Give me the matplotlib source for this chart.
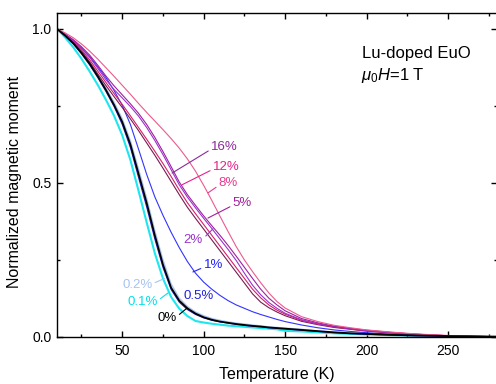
import matplotlib
matplotlib.use("Agg")
import matplotlib.pyplot as plt
from matplotlib.ticker import MultipleLocator

plt.rcParams["font.family"] = ["Liberation Sans", "DejaVu Sans"]
plt.rcParams["mathtext.fontset"] = "custom"
plt.rcParams["mathtext.rm"] = "Liberation Sans"
plt.rcParams["mathtext.it"] = "Liberation Sans:italic"

# temperature grid (K) shared by all curves
temps = [10, 15, 20, 25, 30, 35, 40, 45, 50, 55, 60, 65, 70, 75, 80, 85, 90, 95, 100,
         105, 110, 115, 120, 125, 130, 135, 140, 145, 150, 160, 170, 180, 190, 200,
         215, 230, 250, 265, 280]

m_0 = [1.000, 0.978, 0.953, 0.922, 0.887, 0.846, 0.802, 0.753, 0.698, 0.625, 0.530,
       0.435, 0.330, 0.235, 0.160, 0.118, 0.093, 0.076, 0.064, 0.056, 0.050, 0.046,
       0.042, 0.039, 0.036, 0.034, 0.031, 0.029, 0.027, 0.023, 0.019, 0.015, 0.012,
       0.010, 0.007, 0.005, 0.003, 0.002, 0.001]
m_01 = [1.000, 0.972, 0.940, 0.903, 0.862, 0.818, 0.770, 0.718, 0.655, 0.575, 0.475,
        0.372, 0.272, 0.190, 0.130, 0.092, 0.068, 0.052, 0.047, 0.043, 0.040, 0.037,
        0.035, 0.033, 0.031, 0.029, 0.027, 0.025, 0.020, 0.018, 0.015, 0.012, 0.010,
        0.008, 0.006, 0.004, 0.002, 0.001, 0.001]
m_02 = [1.000, 0.979, 0.955, 0.925, 0.890, 0.851, 0.808, 0.762, 0.708, 0.637, 0.545,
        0.450, 0.345, 0.250, 0.172, 0.126, 0.099, 0.081, 0.069, 0.060, 0.054, 0.049,
        0.045, 0.042, 0.039, 0.036, 0.033, 0.031, 0.029, 0.025, 0.020, 0.016, 0.013,
        0.011, 0.008, 0.005, 0.003, 0.002, 0.001]
m_05 = [1.000, 0.977, 0.951, 0.919, 0.883, 0.842, 0.797, 0.748, 0.690, 0.615, 0.518,
        0.422, 0.318, 0.226, 0.154, 0.113, 0.089, 0.073, 0.062, 0.054, 0.049, 0.045,
        0.041, 0.038, 0.035, 0.033, 0.030, 0.028, 0.026, 0.022, 0.018, 0.014, 0.011,
        0.009, 0.006, 0.004, 0.002, 0.001, 0.001]
m_1 = [1.000, 0.982, 0.962, 0.938, 0.910, 0.877, 0.842, 0.800, 0.752, 0.690, 0.610,
       0.528, 0.455, 0.395, 0.340, 0.290, 0.245, 0.207, 0.178, 0.155, 0.135, 0.118,
       0.104, 0.093, 0.082, 0.073, 0.065, 0.057, 0.050, 0.039, 0.030, 0.023, 0.018,
       0.014, 0.009, 0.006, 0.003, 0.002, 0.001]
m_2 = [1.000, 0.982, 0.962, 0.937, 0.908, 0.872, 0.835, 0.803, 0.776, 0.748, 0.717,
       0.680, 0.638, 0.592, 0.543, 0.494, 0.454, 0.419, 0.385, 0.352, 0.318, 0.284,
       0.248, 0.207, 0.168, 0.137, 0.112, 0.093, 0.077, 0.056, 0.043, 0.034, 0.027,
       0.021, 0.014, 0.009, 0.004, 0.002, 0.001]
m_5 = [1.000, 0.983, 0.965, 0.942, 0.915, 0.882, 0.847, 0.815, 0.786, 0.757, 0.726,
       0.690, 0.648, 0.602, 0.553, 0.503, 0.462, 0.427, 0.393, 0.361, 0.330, 0.297,
       0.262, 0.226, 0.190, 0.155, 0.126, 0.104, 0.085, 0.060, 0.046, 0.035, 0.028,
       0.022, 0.015, 0.009, 0.004, 0.002, 0.001]
m_8 = [1.000, 0.987, 0.971, 0.951, 0.928, 0.902, 0.874, 0.846, 0.817, 0.788, 0.758,
       0.729, 0.701, 0.673, 0.644, 0.613, 0.578, 0.538, 0.492, 0.443, 0.392, 0.342,
       0.293, 0.250, 0.212, 0.176, 0.143, 0.115, 0.094, 0.066, 0.050, 0.038, 0.030,
       0.023, 0.016, 0.010, 0.005, 0.002, 0.001]
m_12 = [1.000, 0.981, 0.960, 0.932, 0.900, 0.863, 0.826, 0.790, 0.755, 0.718, 0.680,
        0.642, 0.603, 0.563, 0.521, 0.477, 0.436, 0.400, 0.365, 0.330, 0.295, 0.260,
        0.225, 0.190, 0.155, 0.127, 0.104, 0.087, 0.074, 0.054, 0.042, 0.033, 0.026,
        0.020, 0.014, 0.009, 0.004, 0.002, 0.001]
m_16 = [1.000, 0.980, 0.957, 0.928, 0.893, 0.854, 0.816, 0.780, 0.745, 0.708, 0.670,
        0.630, 0.590, 0.548, 0.505, 0.462, 0.421, 0.385, 0.350, 0.315, 0.280, 0.245,
        0.210, 0.175, 0.140, 0.113, 0.095, 0.081, 0.069, 0.051, 0.040, 0.031, 0.025,
        0.019, 0.013, 0.008, 0.004, 0.002, 0.001]

labels = ["0%", "0.1%", "0.2%", "0.5%", "1%", "2%", "5%", "8%", "12%", "16%"]
series = [m_0, m_01, m_02, m_05, m_1, m_2, m_5, m_8, m_12, m_16]
colors = ["#000000", "#1ee6ee", "#a8c4f0", "#2a2ae0", "#3333ff", "#9933cc",
          "#a020a0", "#ec5a8e", "#d81e6a", "#7a1c50"]
text_colors = ["#000000", "#00e0ea", "#a8c4f0", "#2020e0", "#2020ff", "#9933cc",
               "#a0209a", "#e83c90", "#e8208a", "#8b2a9b"]
widths = [1.3, 1.5, 1.0, 0.8, 0.8, 0.8, 0.8, 0.8, 0.8, 0.8]

# label text position, curve point, horizontal alignment
label_text = [(83.4, 0.062), (71.8, 0.114), (68.5, 0.169), (87.5, 0.133), (99.9, 0.234),
              (99.6, 0.315), (117.8, 0.435), (109.3, 0.500), (105.6, 0.552), (104.5, 0.617)]
label_point = [(89.8, 0.094), (78.1, 0.143), (76.0, 0.190), None, (93.4, 0.211),
               (105.7, 0.351), (102.6, 0.386), (102.6, 0.4675), (86.7, 0.494), (80.6, 0.532)]
label_ha = ["right", "right", "right", "left", "left", "right", "left", "left", "left", "left"]

fig = plt.figure(figsize=(4.96, 3.84), dpi=100)
ax = fig.add_axes([0.115, 0.1224, 0.887, 0.8425])

draw_order = [1, 2, 3, 4, 9, 8, 5, 6, 7, 0]
for i in draw_order:
    ax.plot(temps, series[i], color=colors[i], lw=widths[i])

for i in range(len(labels)):
    tx, ty = label_text[i]
    if label_point[i] is None:
        ax.text(tx, ty, labels[i], color=text_colors[i], fontsize=9.5, ha=label_ha[i], va="center")
        continue
    rel = (0, 0.3) if label_ha[i] == "left" else (1, 0.6)
    ax.annotate(labels[i], xy=label_point[i], xytext=(tx, ty), color=text_colors[i],
                fontsize=9.5, ha=label_ha[i], va="center",
                arrowprops=dict(arrowstyle="-", color=text_colors[i], lw=0.8,
                                shrinkA=0, shrinkB=0, relpos=rel))

ax.text(0.693, 0.862, "Lu-doped EuO", transform=ax.transAxes, fontsize=12)
ax.text(0.691, 0.795, r"$\mu_{\rm 0}H$=1 T", transform=ax.transAxes, fontsize=12)

ax.set_xlim(10, 280)
ax.set_ylim(0, 1.05)
ax.set_xticks([50, 100, 150, 200, 250])
ax.xaxis.set_minor_locator(MultipleLocator(25))
ax.set_yticks([0.0, 0.5, 1.0])
ax.set_yticklabels(["0.0", "0.5", "1.0"])
ax.yaxis.set_minor_locator(MultipleLocator(0.25))
ax.tick_params(which="both", direction="in", top=True, right=True, labelsize=10, width=1)
ax.tick_params(which="major", length=4.5)
ax.tick_params(which="minor", length=2.5)
ax.tick_params(axis="x", pad=5)
ax.tick_params(axis="y", pad=4)
for s in ax.spines.values():
    s.set_linewidth(1.0)

ax.set_xlabel("Temperature (K)", fontsize=11.5)
ax.set_ylabel("Normalized magnetic moment", fontsize=11.5)
ax.xaxis.set_label_coords(0.5, -0.093)
ax.yaxis.set_label_coords(-0.08, 0.479)

fig.savefig("out.png", dpi=100)
